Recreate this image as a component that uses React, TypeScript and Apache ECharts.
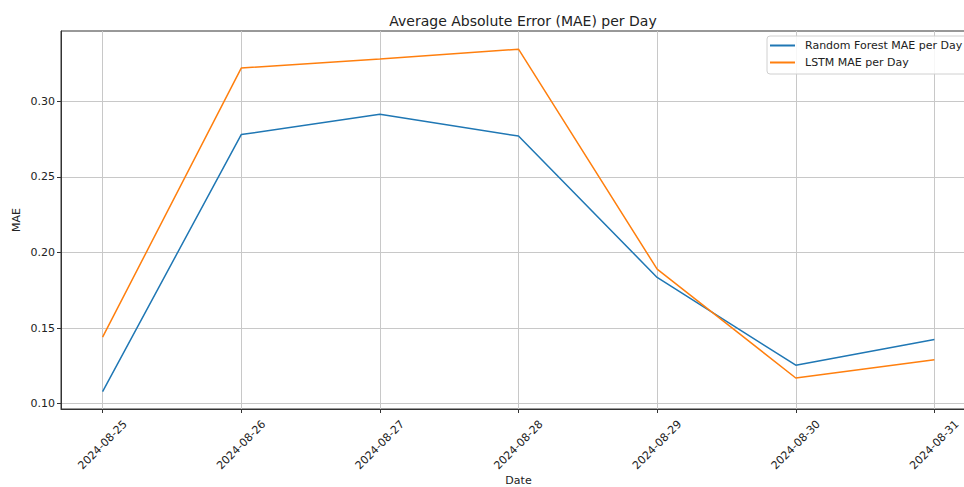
import React, { useEffect, useRef } from "react";
import * as echarts from "echarts";

const dates = ["2024-08-25", "2024-08-26", "2024-08-27", "2024-08-28", "2024-08-29", "2024-08-30", "2024-08-31"];
const rfMae = [0.108, 0.278, 0.2915, 0.277, 0.1835, 0.1255, 0.1425];
const lstmMae = [0.144, 0.322, 0.328, 0.3345, 0.189, 0.117, 0.129];
const yTicks = [0.1, 0.15, 0.2, 0.25, 0.3];
const xTicks = [0, 1, 2, 3, 4, 5, 6];

const FONT = "DejaVu Sans";

export default function App() {
  const ref = useRef<HTMLDivElement>(null);
  useEffect(() => {
    if (!ref.current) return;
    const chart = echarts.init(ref.current, null, { renderer: "svg" });
    const rfData = rfMae.map((v, i) => [i, v]);
    const lstmData = lstmMae.map((v, i) => [i, v]);
    chart.setOption({
      animation: false,
      backgroundColor: "#ffffff",
      textStyle: { fontFamily: FONT },
      title: {
        text: "Average Absolute Error (MAE) per Day",
        left: 518,
        top: 9,
        textAlign: "center",
        textStyle: { fontFamily: FONT, fontSize: 14, fontWeight: "normal", color: "#222" },
      },
      legend: {
        orient: "vertical",
        left: 767,
        top: 36,
        padding: [4, 8, 6, 3],
        itemGap: 6,
        itemWidth: 25,
        itemHeight: 2,
        icon: "rect",
        backgroundColor: "rgba(255,255,255,0.85)",
        borderColor: "#d0d0d0",
        borderWidth: 1,
        borderRadius: 3,
        textStyle: { fontFamily: FONT, fontSize: 11, color: "#222", padding: [0, 0, 0, 5] },
        data: ["Random Forest MAE per Day", "LSTM MAE per Day"],
      },
      grid: {
        left: 61,
        top: 31,
        width: 915,
        height: 378,
        outerBoundsMode: "none",
        containLabel: false,
        show: true,
        borderColor: "#333",
        borderWidth: 1,
        backgroundColor: "transparent",
      },
      xAxis: {
        type: "value",
        min: -0.3,
        max: 6.3,
        name: "Date",
        nameLocation: "middle",
        nameGap: 66,
        nameMoveOverlap: false,
        nameTextStyle: { fontFamily: FONT, fontSize: 11, color: "#222" },
        axisLine: { show: true, onZero: false, lineStyle: { color: "#333" } },
        axisTick: { show: true, length: 4, customValues: xTicks, lineStyle: { color: "#333" } },
        axisLabel: {
          customValues: xTicks,
          formatter: (v: number) => dates[Math.round(v)] ?? "",
          rotate: 45,
          align: "center",
          verticalAlign: "middle",
          margin: 36,
          fontFamily: FONT,
          fontSize: 11,
          color: "#222",
        },
        splitLine: { show: true, lineStyle: { color: "#c8c8c8", width: 1 } },
      },
      yAxis: {
        type: "value",
        min: 0.0965,
        max: 0.3465,
        name: "MAE",
        nameLocation: "middle",
        nameGap: 39,
        nameMoveOverlap: false,
        nameTextStyle: { fontFamily: FONT, fontSize: 11, color: "#222" },
        axisLine: { show: true, onZero: false, lineStyle: { color: "#333" } },
        axisTick: { show: true, length: 4, customValues: yTicks, lineStyle: { color: "#333" } },
        axisLabel: {
          customValues: yTicks,
          formatter: (v: number) => v.toFixed(2),
          margin: 6,
          fontFamily: FONT,
          fontSize: 11,
          color: "#222",
        },
        splitLine: { show: true, lineStyle: { color: "#c8c8c8", width: 1 } },
      },
      series: [
        {
          name: "Random Forest MAE per Day",
          type: "line",
          data: rfData,
          showSymbol: false,
          symbol: "none",
          color: "#1f77b4",
          lineStyle: { color: "#1f77b4", width: 1.5 },
        },
        {
          name: "LSTM MAE per Day",
          type: "line",
          data: lstmData,
          showSymbol: false,
          symbol: "none",
          color: "#ff7f0e",
          lineStyle: { color: "#ff7f0e", width: 1.5 },
        },
      ],
    });
    return () => chart.dispose();
  }, []);
  return <div ref={ref} style={{ width: 964, height: 487, position: "fixed", left: 0, top: 0 }} />;
}
